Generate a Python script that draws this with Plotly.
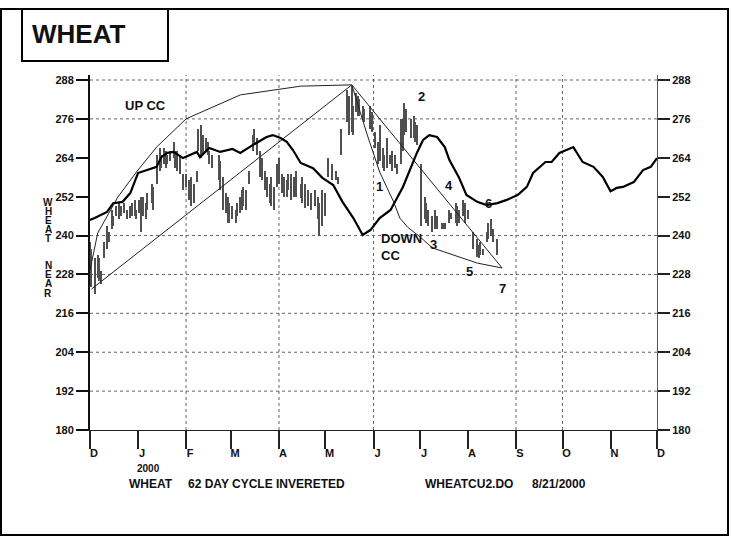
import plotly.graph_objects as go

# ---------------- data ----------------
# x positions are days counted from 1 Dec 1999
month_days = [0, 31, 62, 91, 122, 152, 183, 213, 244, 275, 305, 336, 366]
month_labels = ["D", "J", "F", "M", "A", "M", "J", "J", "A", "S", "O", "N", "D"]
y_ticks = [180, 192, 204, 216, 228, 240, 252, 264, 276, 288]
grid_y = [192, 204, 216, 228, 240, 276, 288]
grid_x_days = [62, 122, 183, 275, 305]

bar_days = [0, 1, 3, 5, 6, 7, 9, 11, 12, 14, 15, 17, 19, 20, 22, 24, 26, 27, 29, 30,
            32, 33, 34, 36, 37, 40, 41, 43, 45, 46, 48, 49, 50, 52, 54, 55, 56, 58, 60, 62,
            64, 65, 67, 69, 70, 72, 73, 75, 76, 77, 79, 83, 84, 86, 88, 89, 90, 92, 94, 95,
            97, 98, 99, 101, 103, 105, 106, 108, 110, 111, 113, 114, 116, 117, 119, 121, 122, 124, 125, 127,
            128, 130, 132, 133, 136, 137, 139, 141, 143, 145, 147, 148, 150, 152, 154, 156, 159, 160, 162, 166,
            167, 169, 170, 172, 173, 174, 176, 177, 181, 182, 184, 186, 187, 189, 190, 192, 194, 195, 197, 198,
            201, 202, 203, 204, 207, 209, 210, 211, 214, 216, 217, 218, 221, 223, 224, 227, 228, 229, 232, 233,
            236, 237, 238, 241, 242, 244, 247, 250, 251, 252, 254, 256, 257, 259, 260, 263]
bar_high = [238, 236, 233, 234, 233, 229, 238, 243, 241, 248, 246, 249, 250, 249, 250, 248, 249, 250, 251, 248,
            251, 252, 252, 250, 253, 256, 255, 265, 267, 265, 267, 266, 265, 266, 269, 266, 266, 265, 259, 259,
            257, 258, 256, 260, 273, 274, 271, 270, 269, 266, 265, 265, 263, 258, 253, 252, 250, 249, 248, 250,
            252, 254, 255, 254, 260, 271, 273, 270, 266, 264, 260, 258, 256, 258, 255, 262, 264, 259, 258, 257,
            259, 259, 258, 260, 256, 258, 256, 254, 253, 254, 252, 250, 254, 253, 264, 262, 260, 258, 273, 285,
            283, 286, 280, 284, 283, 282, 280, 279, 280, 278, 272, 269, 274, 267, 265, 270, 265, 266, 265, 262,
            276, 276, 281, 279, 276, 277, 275, 274, 262, 252, 250, 248, 246, 248, 246, 244, 244, 244, 248, 247,
            250, 249, 248, 251, 250, 248, 241, 239, 237, 238, 236, 241, 244, 245, 242, 239]
bar_low = [229, 224, 222, 227, 226, 225, 233, 236, 238, 242, 243, 246, 245, 246, 247, 245, 245.5, 246, 246, 245,
           247, 241, 246, 245, 248, 250, 248, 256, 260, 261, 262, 261, 262, 263, 264, 261, 260, 259, 254, 255,
           251, 249, 250, 256.5, 266, 264, 265, 266, 265, 262, 261, 257, 254, 248, 247, 244, 244, 245, 244, 246,
           247, 248, 249, 248, 256, 266, 268, 265, 258, 257, 254, 252, 250, 249, 248, 255, 256, 253, 252, 252,
           254, 251, 252, 252, 251.5, 250, 248.5, 249, 248, 249, 245, 240, 243, 246, 258, 257, 257, 256, 265, 275,
           271, 272, 271, 278, 277, 277, 276, 275, 273, 272, 267, 262, 263, 261, 260, 261, 262, 260, 261, 259,
           262, 266, 271, 272, 270, 270, 269, 268, 243, 245, 244, 243, 241, 242, 242, 242, 242, 242, 244, 245,
           244, 243, 244, 246, 244, 245, 236, 233.5, 233, 234, 234, 238, 239, 240, 238, 234]

cycle_days = [0, 3, 11, 15, 21, 26, 31, 37, 43, 46, 50, 54, 60, 69, 71, 77, 84, 92, 97, 105,
              114, 118, 123, 127, 131, 136, 144, 150, 157, 163, 170, 176, 181, 187, 194, 202, 211, 215, 219, 224,
              229, 232, 238, 243, 250, 256, 263, 269, 276, 282, 286, 294, 298, 303, 312, 318, 325, 331, 336, 340,
              344, 351, 357, 362, 366]
cycle_vals = [244.8, 245.4, 247.3, 250.0, 250.4, 253.1, 259.3, 260.2, 261.2, 264.2, 265.5, 265.8, 263.9, 265.8, 264.2, 267.0, 265.8, 266.7, 265.5, 267.9,
              270.4, 271.0, 270.1, 268.9, 266.4, 262.4, 260.8, 257.8, 255.6, 250.4, 245.4, 240.2, 241.7, 245.4, 247.9, 255.0, 265.5, 269.5, 271.0, 270.4,
              267.3, 263.3, 258.1, 252.5, 250.4, 249.4, 250.0, 251.0, 252.5, 255.0, 259.3, 262.7, 262.7, 265.5, 267.3, 262.7, 261.2, 258.1, 253.7, 254.7,
              255.0, 256.5, 260.2, 261.2, 263.9]

upcc_days = [0, 5, 18, 30, 43, 62, 97, 136, 169]
upcc_vals = [229.4, 240.8, 251.9, 259.6, 267.3, 276.0, 283.4, 286.1, 286.5]
upline_days = [1, 169]
upline_vals = [223.5, 286.5]
downcc_days = [169, 179, 187, 196, 200, 205, 213, 221, 250, 266, 169]
downcc_vals = [286.5, 271.0, 259.6, 250.4, 245.4, 242.6, 239.6, 236.2, 231.5, 230.0, 286.5]

point_labels = ["2", "1", "4", "6", "3", "5", "7"]
point_days = [214, 187, 232, 257, 221.5, 245, 266]
point_vals = [282.8, 255.0, 255.3, 250.0, 237.1, 228.8, 223.8]

# ---------------- figure ----------------
FONT = "Liberation Sans, Arial, Helvetica, sans-serif"
W, H = 731, 539
L, R, T, B = 90, 74, 75, 109
Y_TOP = 288 + 5 / 3.2407

fig = go.Figure()

# price bars (high-low)
fig.add_trace(go.Bar(
    x=bar_days, y=[h - l for h, l in zip(bar_high, bar_low)], base=bar_low,
    width=0.75, marker=dict(color="#505050", line=dict(width=0)),
    hoverinfo="skip", showlegend=False))

# up and down cycle envelopes
fig.add_trace(go.Scatter(x=upcc_days, y=upcc_vals, mode="lines",
                         line=dict(color="#222", width=1), showlegend=False))
fig.add_trace(go.Scatter(x=upline_days, y=upline_vals, mode="lines",
                         line=dict(color="#222", width=1), showlegend=False))
fig.add_trace(go.Scatter(x=downcc_days, y=downcc_vals, mode="lines",
                         line=dict(color="#222", width=1), showlegend=False))

# inverted 62-day cycle
fig.add_trace(go.Scatter(x=cycle_days, y=cycle_vals, mode="lines",
                         line=dict(color="black", width=2.2), showlegend=False))

# dummy trace for right axis
fig.add_trace(go.Scatter(x=[0], y=[180], yaxis="y2", mode="markers",
                         marker=dict(opacity=0), showlegend=False, hoverinfo="skip"))

shapes = []
for gy in grid_y:
    shapes.append(dict(type="line", xref="x", yref="y", x0=0, x1=366, y0=gy, y1=gy,
                       line=dict(color="#666", width=1, dash="dot"), layer="below"))
for gx in grid_x_days:
    shapes.append(dict(type="line", xref="x", yref="y", x0=gx, x1=gx, y0=180, y1=Y_TOP,
                       line=dict(color="#666", width=1, dash="dot"), layer="below"))

pw, ph = W - L - R, H - T - B


def px(xp):
    return (xp - L) / pw


def py(yp):
    return (H - B - yp) / ph


# outer frame and title box
shapes.append(dict(type="rect", xref="paper", yref="paper",
                   x0=px(1), x1=px(728), y0=py(535), y1=py(9),
                   line=dict(color="black", width=2), fillcolor="rgba(0,0,0,0)"))
shapes.append(dict(type="rect", xref="paper", yref="paper",
                   x0=px(22), x1=px(168), y0=py(61), y1=py(9),
                   line=dict(color="black", width=2), fillcolor="white"))

annotations = []


def paper_text(txt, xp, yp, size, xanchor="center"):
    annotations.append(dict(text="<b>%s</b>" % txt, xref="paper", yref="paper",
                            x=px(xp), y=py(yp), showarrow=False,
                            xanchor=xanchor, yanchor="middle",
                            font=dict(family=FONT, size=size, color="#111")))


paper_text("WHEAT", 79, 34, 26)
annotations.append(dict(text="<b>UP CC</b>", xref="x", yref="y", x=35.5, y=280.0,
                        showarrow=False, font=dict(family=FONT, size=13, color="#111")))
annotations.append(dict(text="<b>DOWN</b>", xref="x", yref="y", x=186.5, y=239.2,
                        xanchor="left", showarrow=False, font=dict(family=FONT, size=13, color="#111")))
annotations.append(dict(text="<b>CC</b>", xref="x", yref="y", x=186.5, y=234.0,
                        xanchor="left", showarrow=False, font=dict(family=FONT, size=13, color="#111")))
for t, d, v in zip(point_labels, point_days, point_vals):
    annotations.append(dict(text="<b>%s</b>" % t, xref="x", yref="y", x=d, y=v,
                            showarrow=False, font=dict(family=FONT, size=13, color="#111")))

# vertical axis title, one letter per line
title_letters = ["W", "H", "E", "A", "T", "", "", "N", "E", "A", "R"]
for i, ch in enumerate(title_letters):
    if ch:
        paper_text(ch, 48, 202 + 9.1 * i, 10)

paper_text("2000", 148, 468, 10)
footer = [("WHEAT", 127), ("62 DAY CYCLE INVERETED", 186), ("WHEATCU2.DO", 423), ("8/21/2000", 530)]
for txt, xp in footer:
    paper_text(txt, xp, 484, 12, xanchor="left")

tickfont = dict(family=FONT, size=11, color="#111", weight="bold")

fig.update_layout(
    width=W, height=H,
    margin=dict(l=L, r=R, t=T, b=B, pad=0),
    paper_bgcolor="white", plot_bgcolor="white",
    showlegend=False, bargap=0,
    shapes=shapes, annotations=annotations,
    xaxis=dict(range=[0, 366], tickvals=month_days, ticktext=month_labels,
               showgrid=False, zeroline=False, showline=True, linecolor="#222", linewidth=1,
               ticks="outside", ticklen=18, tickwidth=1.5, tickcolor="#222",
               tickfont=tickfont, ticklabelshift=4, ticklabelstandoff=-5),
    yaxis=dict(range=[180, Y_TOP], tickvals=y_ticks, showgrid=False, zeroline=False,
               showline=True, linecolor="#111", linewidth=2,
               ticks="outside", ticklen=12, tickwidth=1.5, tickcolor="#111", tickfont=tickfont),
    yaxis2=dict(range=[180, Y_TOP], tickvals=y_ticks, overlaying="y", side="right",
                showgrid=False, zeroline=False, showline=True, linecolor="#555", linewidth=1,
                ticks="outside", ticklen=12, tickwidth=1.5, tickcolor="#222", tickfont=tickfont),
)

fig.write_html("out.html", config={"displayModeBar": False},
               post_script="document.body.style.margin='0px';")
